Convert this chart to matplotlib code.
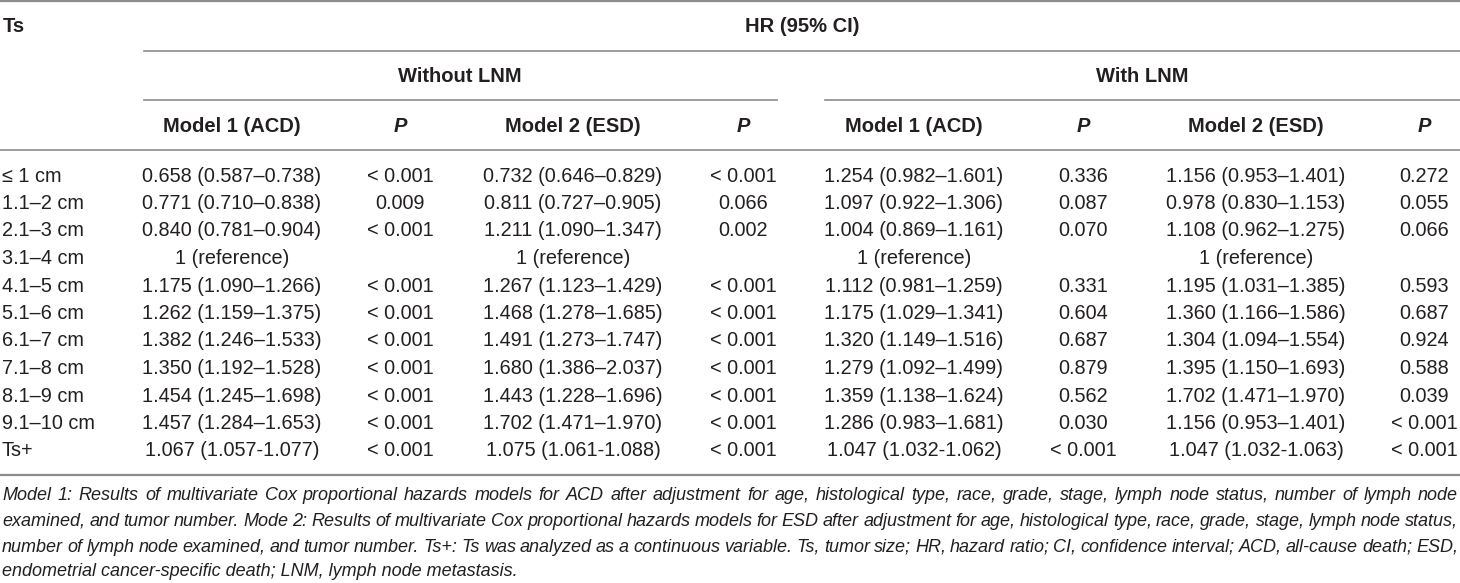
import matplotlib
matplotlib.use('Agg')
import matplotlib.pyplot as plt

plt.rcParams['font.family'] = ['Liberation Sans', 'DejaVu Sans']

# table data
sizes = ['≤ 1 cm', '1.1–2 cm', '2.1–3 cm', '3.1–4 cm', '4.1–5 cm', '5.1–6 cm',
         '6.1–7 cm', '7.1–8 cm', '8.1–9 cm', '9.1–10 cm', 'Ts+']
wo_m1 = ['0.658 (0.587–0.738)', '0.771 (0.710–0.838)', '0.840 (0.781–0.904)', '1 (reference)',
         '1.175 (1.090–1.266)', '1.262 (1.159–1.375)', '1.382 (1.246–1.533)', '1.350 (1.192–1.528)',
         '1.454 (1.245–1.698)', '1.457 (1.284–1.653)', '1.067 (1.057-1.077)']
wo_p1 = ['< 0.001', '0.009', '< 0.001', '', '< 0.001', '< 0.001', '< 0.001', '< 0.001',
         '< 0.001', '< 0.001', '< 0.001']
wo_m2 = ['0.732 (0.646–0.829)', '0.811 (0.727–0.905)', '1.211 (1.090–1.347)', '1 (reference)',
         '1.267 (1.123–1.429)', '1.468 (1.278–1.685)', '1.491 (1.273–1.747)', '1.680 (1.386–2.037)',
         '1.443 (1.228–1.696)', '1.702 (1.471–1.970)', '1.075 (1.061-1.088)']
wo_p2 = ['< 0.001', '0.066', '0.002', '', '< 0.001', '< 0.001', '< 0.001', '< 0.001',
         '< 0.001', '< 0.001', '< 0.001']
w_m1 = ['1.254 (0.982–1.601)', '1.097 (0.922–1.306)', '1.004 (0.869–1.161)', '1 (reference)',
        '1.112 (0.981–1.259)', '1.175 (1.029–1.341)', '1.320 (1.149–1.516)', '1.279 (1.092–1.499)',
        '1.359 (1.138–1.624)', '1.286 (0.983–1.681)', '1.047 (1.032-1.062)']
w_p1 = ['0.336', '0.087', '0.070', '', '0.331', '0.604', '0.687', '0.879', '0.562', '0.030', '< 0.001']
w_m2 = ['1.156 (0.953–1.401)', '0.978 (0.830–1.153)', '1.108 (0.962–1.275)', '1 (reference)',
        '1.195 (1.031–1.385)', '1.360 (1.166–1.586)', '1.304 (1.094–1.554)', '1.395 (1.150–1.693)',
        '1.702 (1.471–1.970)', '1.156 (0.953–1.401)', '1.047 (1.032-1.063)']
w_p2 = ['0.272', '0.055', '0.066', '', '0.593', '0.687', '0.924', '0.588', '0.039', '< 0.001', '< 0.001']

col_heads = ['Model 1 (ACD)', 'P', 'Model 2 (ESD)', 'P', 'Model 1 (ACD)', 'P', 'Model 2 (ESD)', 'P']
footnote = [
    'Model 1: Results of multivariate Cox proportional hazards models for ACD after adjustment for age, histological type, race, grade, stage, lymph node status, number of lymph node',
    'examined, and tumor number. Mode 2: Results of multivariate Cox proportional hazards models for ESD after adjustment for age, histological type, race, grade, stage, lymph node status,',
    'number of lymph node examined, and tumor number. Ts+: Ts was analyzed as a continuous variable. Ts, tumor size; HR, hazard ratio; CI, confidence interval; ACD, all-cause death; ESD,',
    'endometrial cancer-specific death; LNM, lymph node metastasis.',
]

W, H = 1460, 583
fig = plt.figure(figsize=(W/100, H/100), dpi=100)
ax = fig.add_axes([0, 0, 1, 1])
ax.set_xlim(0, W)
ax.set_ylim(H, 0)
ax.axis('off')

txt = '#231f20'
lc = '#8c8c8c'
fs = 14.3    # body
hfs = 14.5   # bold headers
nfs = 13.0   # footnote

col_x = [232, 400, 573, 743, 914, 1083, 1256, 1424]
columns = [wo_m1, wo_p1, wo_m2, wo_p2, w_m1, w_p1, w_m2, w_p2]
row0, dy = 176, 27.5

# rules
ax.plot([0, W], [1, 1], color=lc, lw=1.6)
ax.plot([144, W], [51, 51], color=lc, lw=1.2)
ax.plot([144, 777], [100, 100], color=lc, lw=1.2)
ax.plot([825, W], [100, 100], color=lc, lw=1.2)
ax.plot([0, W], [150, 150], color=lc, lw=1.2)
ax.plot([0, W], [475, 475], color=lc, lw=1.6)

# header
ax.text(3, 26, 'Ts', fontsize=hfs, fontweight='bold', color=txt, va='center', ha='left')
ax.text(802, 26, 'HR (95% CI)', fontsize=hfs, fontweight='bold', color=txt, va='center', ha='center')
ax.text(460, 77, 'Without LNM', fontsize=hfs, fontweight='bold', color=txt, va='center', ha='center')
ax.text(1142, 77, 'With LNM', fontsize=hfs, fontweight='bold', color=txt, va='center', ha='center')
for x, h in zip(col_x, col_heads):
    ax.text(x, 127, h, fontsize=hfs, fontweight='bold', color=txt, va='center', ha='center',
            fontstyle='italic' if h == 'P' else 'normal')

# body
for i, s in enumerate(sizes):
    y = row0 + i*dy
    ax.text(2, y, s, fontsize=fs, color=txt, va='center', ha='left')
    for x, col in zip(col_x, columns):
        ax.text(x, y, col[i], fontsize=fs, color=txt, va='center', ha='center')

# footnote, justified like the original
fig.canvas.draw()
rend = fig.canvas.get_renderer()
fy = [495, 521, 547, 572]
left, right = 2, 1458
for line, y in zip(footnote, fy):
    if line is footnote[-1]:
        ax.text(left, y, line, fontsize=nfs, fontstyle='italic', color=txt, va='center', ha='left')
        continue
    words = line.split(' ')
    widths = []
    for w in words:
        t = ax.text(0, 0, w, fontsize=nfs, fontstyle='italic')
        widths.append(t.get_window_extent(rend).width)
        t.remove()
    gap = (right - left - sum(widths)) / (len(words) - 1)
    x = left
    for w, wd in zip(words, widths):
        ax.text(x, y, w, fontsize=nfs, fontstyle='italic', color=txt, va='center', ha='left')
        x += wd + gap

fig.savefig('out.png', dpi=100)
